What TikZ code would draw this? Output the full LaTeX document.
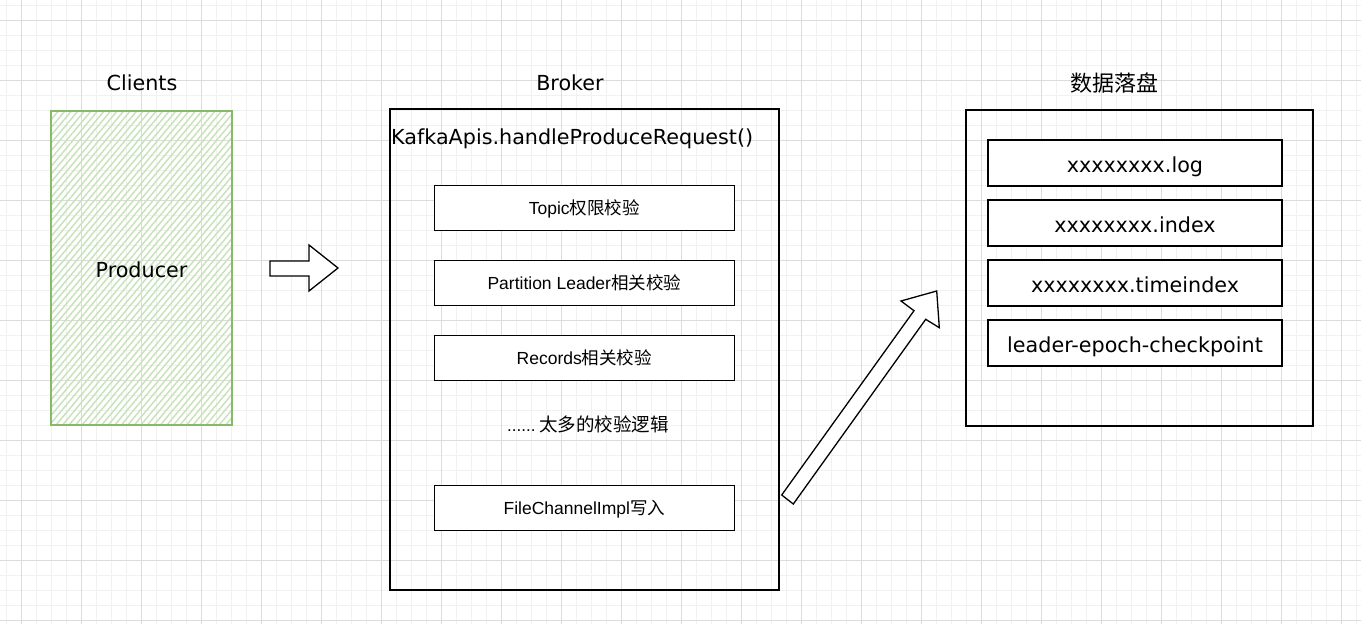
\documentclass[tikz,border=0pt]{standalone}
\usepackage{fontspec}
\setmainfont{Liberation Sans}
\newfontfamily\hand{DejaVu Sans}
\newfontfamily\cjk{Noto Sans CJK SC}
\usetikzlibrary{patterns.meta}
\definecolor{gridmajor}{HTML}{DCDCDC}
\definecolor{gridminor}{HTML}{F1F1F1}
\definecolor{gborder}{HTML}{86BA68}
\definecolor{ghatch}{HTML}{C8E3BB}
\tikzset{
  minorgrid/.style={draw=gridminor, line width=0.8pt},
  majorgrid/.style={draw=gridmajor, line width=0.9pt},
  handtxt/.style={font=\hand\fontsize{20.7}{24}\selectfont, inner sep=0pt},
  cjktitle/.style={font=\cjk\fontsize{22}{26}\selectfont, inner sep=0pt},
  chkbox/.style={draw=black, fill=white, line width=1.2pt, minimum width=300pt, minimum height=45pt, inner sep=0pt, text height=14pt, text depth=2pt, font=\fontsize{17.5}{20}\selectfont},
  filebox/.style={draw=black, fill=white, line width=1.9pt, minimum width=294pt, minimum height=46pt, inner sep=0pt, text height=21.4pt, text depth=2pt, font=\hand\fontsize{20.7}{24}\selectfont},
  container/.style={draw=black, line width=2pt, inner sep=0pt},
  blockarrow/.style={draw=black, fill=white, line width=1.3pt, line join=miter},
}
\begin{document}
\begin{tikzpicture}[x=1pt, y=-1pt]
\useasboundingbox (0,0) rectangle (1361,624);
\fill[white] (0,0) rectangle (1361,624);
% grid
\foreach \k in {0,...,90} { \draw[minorgrid] ({6.7+15*\k},0) -- ({6.7+15*\k},624); }
\foreach \k in {0,...,41} { \draw[minorgrid] (0,{5+15*\k}) -- (1361,{5+15*\k}); }
\foreach \k in {0,...,22} { \draw[majorgrid] ({21.7+60*\k},0) -- ({21.7+60*\k},624); }
\foreach \k in {0,...,10} { \draw[majorgrid] (0,{20+60*\k}) -- (1361,{20+60*\k}); }

% titles
\node[handtxt, anchor=base] (clients) at (142,90.5) {Clients};
\node[handtxt, anchor=base] (broker) at (570,90.5) {Broker};
\node[cjktitle] (disk) at (1114,83) {数据落盘};

% producer
\node[draw=gborder, line width=2.2pt, minimum width=181pt, minimum height=314pt,
      pattern={Lines[angle=50, distance=5pt, line width=1.5pt]}, pattern color=ghatch,
      inner sep=0pt] (prodbox) at (141.5,268) {};
\node[handtxt, anchor=base] (producer) at (141.5,277.5) {Producer};

% arrow 1
\draw[blockarrow] (270,261) -- (309,261) -- (309,245) -- (338,268) -- (309,291) -- (309,276) -- (270,276) -- cycle;

% broker container
\node[container, minimum width=389pt, minimum height=481pt] (brokerbox) at (584.5,349.5) {};
\node[handtxt, anchor=base west] (api) at (391,144) {KafkaApis.handleProduceRequest()};
\node[chkbox] (topic) at (584.3,208.2) {Topic{\cjk 权限校验}};
\node[chkbox] (leader) at (584.3,283.2) {Partition Leader{\cjk 相关校验}};
\node[chkbox] (records) at (584.3,358) {Records{\cjk 相关校验}};
\node[inner sep=0pt, anchor=base] (more) at (588,431) {{\fontsize{17}{20}\selectfont ......} {\cjk\fontsize{18.5}{22}\selectfont 太多的校验逻辑}};
\node[chkbox] (write) at (584.3,508) {FileChannelImpl{\cjk 写入}};

% arrow 2
\draw[blockarrow] (781.7,495) -- (914,310.7) -- (901,301) -- (936.7,291) -- (939.3,327.7) -- (925.7,319.3) -- (793.3,504) -- cycle;

% disk container
\node[container, minimum width=346.5pt, minimum height=316pt] (diskbox) at (1139.3,268) {};
\node[filebox] (log) at (1135,163) {xxxxxxxx.log};
\node[filebox] (index) at (1135,223) {xxxxxxxx.index};
\node[filebox] (timeindex) at (1135,283) {xxxxxxxx.timeindex};
\node[filebox] (ckpt) at (1135,343) {leader-epoch-checkpoint};
\end{tikzpicture}
\end{document}
